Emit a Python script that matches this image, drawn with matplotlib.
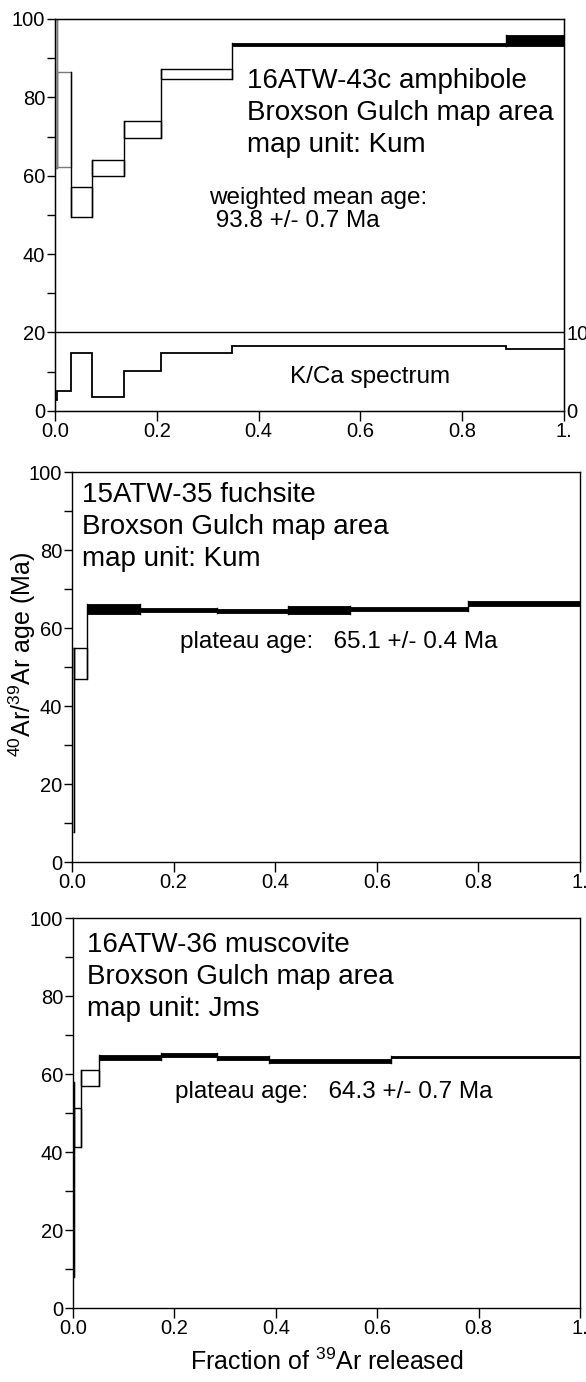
import numpy as np
import matplotlib
matplotlib.use("Agg")
import matplotlib.pyplot as plt
from matplotlib.patches import Rectangle

plt.rcParams["font.family"] = ["Liberation Sans", "DejaVu Sans"]
plt.rcParams["mathtext.fontset"] = "custom"
plt.rcParams["mathtext.rm"] = "Liberation Sans"
plt.rcParams["mathtext.it"] = "Liberation Sans:italic"

# --- step-heating data (cumulative 39Ar fraction, age, 2s error) ---
# 16ATW-43c amphibole
amph_edges = [0.0, 0.003, 0.031, 0.072, 0.136, 0.209, 0.347, 0.887, 1.0]
amph_age = [84.0, 74.3, 53.3, 62.0, 71.7, 86.0, 93.5, 94.6]
amph_err = [22.0, 12.1, 3.9, 2.0, 2.2, 1.2, 0.5, 1.4]
amph_plateau = [False, False, False, False, False, False, True, True]
amph_kca = [1.4, 2.5, 7.35, 1.8, 5.1, 7.4, 8.3, 7.85]

# 15ATW-35 fuchsite
fuch_edges = [0.0, 0.004, 0.029, 0.134, 0.285, 0.425, 0.547, 0.780, 1.0]
fuch_age = [31.4, 51.0, 64.8, 64.6, 64.4, 64.65, 64.95, 66.3]
fuch_err = [23.6, 4.0, 1.3, 0.6, 0.6, 1.05, 0.55, 0.6]
fuch_plateau = [False, False, True, True, True, True, True, True]

# 16ATW-36 muscovite
musc_edges = [0.0, 0.002, 0.016, 0.052, 0.173, 0.284, 0.386, 0.627, 1.0]
musc_age = [33.0, 46.3, 58.9, 64.25, 64.85, 64.1, 63.35, 64.45]
musc_err = [25.0, 5.0, 2.0, 0.65, 0.45, 0.5, 0.45, 0.25]
musc_plateau = [False, False, False, True, True, True, True, True]

x_ticks = [0.0, 0.2, 0.4, 0.6, 0.8, 1.0]
x_ticklabels = ["0.0", "0.2", "0.4", "0.6", "0.8", "1."]
y_ticks = [0, 20, 40, 60, 80, 100]

W, H = 586, 1382
GRAY = "#7a7a7a"
TICK_FS = 14.5
TITLE_FS = 20
NOTE_FS = 17.5


def add_px_axes(fig, left, top, right, bottom):
    return fig.add_axes([left / W, 1 - bottom / H, (right - left) / W, (bottom - top) / H])


def style_axes(ax):
    ax.set_xlim(0, 1)
    ax.set_ylim(0, 100)
    ax.set_xticks(x_ticks)
    ax.set_xticklabels(x_ticklabels)
    ax.set_yticks(y_ticks)
    ax.set_yticks(np.arange(10, 100, 20), minor=True)
    ax.tick_params(axis="both", which="both", direction="out", length=6, width=1,
                   labelsize=TICK_FS, pad=1)
    ax.tick_params(axis="x", length=7, pad=1)
    for sp in ax.spines.values():
        sp.set_linewidth(1.0)


def draw_spectrum(ax, edges, age, err, plateau, n_gray):
    lo = [a - e for a, e in zip(age, err)]
    hi = [a + e for a, e in zip(age, err)]
    for i in range(len(age)):
        x0, x1 = edges[i], edges[i + 1]
        col = GRAY if i < n_gray else "black"
        if plateau[i]:
            ax.add_patch(Rectangle((x0, lo[i]), x1 - x0, hi[i] - lo[i],
                                   facecolor="black", edgecolor="black", lw=0.6))
        else:
            ax.add_patch(Rectangle((x0, lo[i]), x1 - x0, hi[i] - lo[i],
                                   fill=False, edgecolor=col, lw=1.0))
        if i > 0:
            ax.plot([x0, x0], [min(lo[i - 1], lo[i]), max(hi[i - 1], hi[i])],
                    color=col, lw=1.0)


fig = plt.figure(figsize=(W / 100, H / 100), dpi=100)

# --- top panel: amphibole + K/Ca ---
ax1 = add_px_axes(fig, 55, 19, 564, 410.8)
style_axes(ax1)
draw_spectrum(ax1, amph_edges, amph_age, amph_err, amph_plateau, n_gray=2)
ax1.axhline(20, color="black", lw=1.0)
ax1r = ax1.twinx()
ax1r.set_ylim(0, 50)
ax1r.set_yticks([0, 10])
ax1r.tick_params(axis="y", direction="out", length=0, width=1, labelsize=TICK_FS, pad=1.5)
ax1r.stairs(amph_kca, amph_edges, color="black", lw=1.3, baseline=None)
ax1.text(0.377, 87.6, "16ATW-43c amphibole\nBroxson Gulch map area\nmap unit: Kum",
         fontsize=TITLE_FS, va="top", ha="left", linespacing=1.3)
ax1.text(0.3026, 57.2, "weighted mean age:\n 93.8 +/- 0.7 Ma",
         fontsize=NOTE_FS, va="top", ha="left", linespacing=1.1)
ax1.text(0.4617, 7.0, "K/Ca spectrum", fontsize=NOTE_FS, va="baseline", ha="left")

# --- middle panel: fuchsite ---
ax2 = add_px_axes(fig, 72, 472, 580, 862)
style_axes(ax2)
draw_spectrum(ax2, fuch_edges, fuch_age, fuch_err, fuch_plateau, n_gray=1)
ax2.text(0.019, 97.5, "15ATW-35 fuchsite\nBroxson Gulch map area\nmap unit: Kum",
         fontsize=TITLE_FS, va="top", ha="left", linespacing=1.3)
ax2.text(0.2126, 54.8, "plateau age:   65.1 +/- 0.4 Ma", fontsize=NOTE_FS,
         va="baseline", ha="left")

# --- bottom panel: muscovite ---
ax3 = add_px_axes(fig, 73, 918, 580, 1308)
style_axes(ax3)
draw_spectrum(ax3, musc_edges, musc_age, musc_err, musc_plateau, n_gray=1)
ax3.text(0.028, 96.5, "16ATW-36 muscovite\nBroxson Gulch map area\nmap unit: Jms",
         fontsize=TITLE_FS, va="top", ha="left", linespacing=1.3)
ax3.text(0.2008, 53.8, "plateau age:   64.3 +/- 0.7 Ma", fontsize=NOTE_FS,
         va="baseline", ha="left")

fig.text(22 / W, 1 - 654 / H, r"$^{\mathrm{40}}$Ar/$^{\mathrm{39}}$Ar age (Ma)",
         rotation=90, fontsize=18, ha="center", va="center")
fig.text(327 / W, 1 - 1362 / H, r"Fraction of $^{\mathrm{39}}$Ar released",
         fontsize=18, ha="center", va="center")

fig.savefig("out.png", dpi=100)
